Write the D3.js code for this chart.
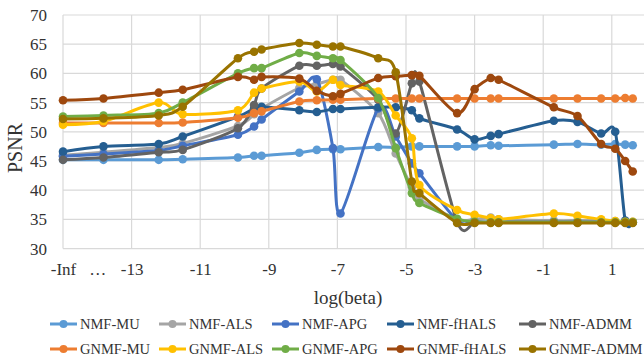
<!DOCTYPE html>
<html><head><meta charset="utf-8">
<script src="https://cdn.jsdelivr.net/npm/d3@7"></script>
<style>body{margin:0;background:#fff}text{font-family:"Liberation Serif","Times New Roman",serif}</style>
</head><body><svg id="c" width="644" height="362"></svg>
<script>
// x positions: ln(beta); beta = 0 is drawn at the "-Inf" slot (-15)
const logBeta = [-15, -13.82, -12.21, -11.51, -9.90, -9.43, -9.21, -8.11, -7.60, -7.13, -6.91, -5.81, -5.30, -4.83, -4.61, -3.51, -3.00, -2.53, -2.30, -0.69, 0, 0.69, 1.10, 1.39, 1.61];
const xTickValues = [-15, -14, -13, -11, -9, -7, -5, -3, -1, 1];
const xTickLabels = ["-Inf", "…", "-13", "-11", "-9", "-7", "-5", "-3", "-1", "1"];
const xGridValues = [-15, -13, -11, -9, -7, -5, -3, -1, 1];
const yTicks = [30, 35, 40, 45, 50, 55, 60, 65, 70];

const seriesNames = ["NMF-MU", "NMF-ALS", "NMF-APG", "NMF-fHALS", "NMF-ADMM",
                     "GNMF-MU", "GNMF-ALS", "GNMF-APG", "GNMF-fHALS", "GNMF-ADMM"];
const seriesColors = ["#5B9BD5", "#A5A5A5", "#4472C4", "#255E91", "#636363",
                      "#ED7D31", "#FFC000", "#70AD47", "#9E480E", "#997300"];

const nmfMU    = [45.2, 45.2, 45.2, 45.3, 45.6, 45.9, 45.9, 46.4, 46.9, 47.0, 47.0, 47.4, 47.3, 47.5, 47.5, 47.5, 47.5, 47.7, 47.6, 47.8, 47.9, 47.8, 47.9, 47.8, 47.7];
const nmfALS   = [46.0, 46.5, 47.3, 48.0, 51.0, 53.0, 54.0, 57.5, 58.2, 58.9, 58.9, 53.2, 46.3, 40.5, 38.5, 35.0, 35.0, 35.3, 35.0, 34.8, 34.8, 34.8, 34.7, 34.6, 34.6];
const nmfAPG   = [45.8, 46.2, 46.8, 47.6, 49.5, 50.9, 52.1, 56.9, 59.0, 47.2, 36.0, 54.0, 49.2, 44.6, 42.9, 34.8, 34.6, 34.5, 34.5, 34.5, 34.5, 34.5, 34.5, 34.5, 34.5];
const nmfFHALS = [46.6, 47.5, 47.9, 49.2, 52.6, 54.0, 54.3, 53.7, 53.4, 53.9, 53.9, 54.2, 54.2, 53.7, 52.3, 50.4, 48.7, 49.3, 49.6, 51.9, 51.7, 49.7, 50.0, 34.8, 34.5];
const nmfADMM  = [45.2, 45.6, 46.5, 46.9, 50.6, 54.6, 57.4, 61.3, 61.3, 61.6, 61.2, 55.5, 49.7, 58.3, 58.6, 34.6, 34.5, 34.5, 34.5, 34.5, 34.5, 34.5, 34.5, 34.5, 34.5];
const gnmfMU   = [51.5, 51.5, 51.5, 51.6, 52.4, 53.2, 53.5, 55.2, 55.4, 55.5, 55.5, 55.7, 55.7, 55.7, 55.7, 55.7, 55.7, 55.7, 55.7, 55.7, 55.7, 55.7, 55.7, 55.8, 55.7];
const gnmfALS  = [51.2, 51.8, 55.0, 53.0, 53.7, 56.7, 57.4, 58.6, 56.9, 58.9, 58.0, 56.9, 52.8, 48.9, 40.9, 36.6, 35.8, 35.2, 35.0, 36.0, 35.6, 35.0, 34.7, 34.6, 34.6];
const gnmfAPG  = [52.6, 52.8, 53.2, 55.0, 60.0, 60.9, 60.9, 63.5, 63.0, 62.6, 62.3, 55.8, 47.2, 39.5, 37.8, 35.1, 34.6, 34.5, 34.5, 34.5, 34.5, 34.5, 34.5, 34.5, 34.5];
const gnmfFHALS= [55.4, 55.7, 56.7, 57.2, 59.4, 58.9, 59.4, 59.1, 57.0, 56.1, 56.5, 59.2, 59.5, 59.7, 59.6, 53.2, 57.3, 59.2, 58.9, 54.2, 52.7, 47.9, 47.1, 45.0, 43.2];
const gnmfADMM = [52.2, 52.3, 52.8, 54.3, 62.6, 63.7, 64.1, 65.2, 64.9, 64.6, 64.6, 62.6, 60.2, 41.5, 39.5, 34.4, 34.4, 34.4, 34.4, 34.4, 34.4, 34.4, 34.4, 34.4, 34.4];

const seriesValues = [nmfMU, nmfALS, nmfAPG, nmfFHALS, nmfADMM, gnmfMU, gnmfALS, gnmfAPG, gnmfFHALS, gnmfADMM];

(function () {
const svg = d3.select("#c");
const pLeft = 63, pTop = 15, pBottom = 248.6, pRight = 644;
const x = d3.scaleLinear().domain([-15, 2]).range([pLeft, pLeft + 17 * 34.3]);
const y = d3.scaleLinear().domain([30, 70]).range([pBottom, pTop]);
const textColor = "#333333";

// gridlines
const grid = svg.append("g");
grid.selectAll("line.h").data(yTicks).join("line").attr("class", "h")
  .attr("x1", pLeft).attr("x2", pRight)
  .attr("y1", d => y(d)).attr("y2", d => y(d))
  .attr("stroke", "#D9D9D9").attr("stroke-width", 1.2);
grid.selectAll("line.v").data(xGridValues).join("line").attr("class", "v")
  .attr("x1", d => x(d)).attr("x2", d => x(d))
  .attr("y1", pTop).attr("y2", pBottom)
  .attr("stroke", "#D9D9D9").attr("stroke-width", 1.2);

// y axis labels
const yAxis = d3.axisLeft(y).tickValues(yTicks).tickSize(0).tickPadding(0);
const gy = svg.append("g").attr("transform", `translate(47,0)`).call(yAxis);
gy.select(".domain").remove();
gy.selectAll("text").attr("font-size", 17).attr("fill", textColor)
  .attr("font-family", "Liberation Serif");

// x axis labels
const xAxis = d3.axisBottom(x).tickValues(xTickValues).tickSize(0).tickPadding(0)
  .tickFormat((d, i) => xTickLabels[i]);
const gx = svg.append("g").attr("transform", `translate(0,${pBottom})`).call(xAxis);
gx.select(".domain").remove();
gx.selectAll("text").attr("font-size", 17).attr("fill", textColor)
  .attr("font-family", "Liberation Serif").attr("dy", null).attr("y", 26);

// axis titles
svg.append("text").attr("x", 348).attr("y", 304).attr("text-anchor", "middle")
  .attr("font-size", 19).attr("fill", textColor).text("log(beta)");
svg.append("text").attr("transform", "translate(22,148) rotate(-90)")
  .attr("text-anchor", "middle").attr("font-size", 20).attr("fill", textColor).text("PSNR");

// series (smoothed lines with markers)
const line = d3.line().x((d, i) => x(logBeta[i])).y(d => y(d)).curve(d3.curveCardinal.tension(0.15));
const gs = svg.append("g");
seriesValues.forEach((vals, k) => {
  const g = gs.append("g");
  g.append("path").attr("d", line(vals)).attr("fill", "none")
    .attr("stroke", seriesColors[k]).attr("stroke-width", 3)
    .attr("stroke-linejoin", "round").attr("stroke-linecap", "round");
  g.selectAll("circle").data(vals).join("circle")
    .attr("cx", (d, i) => x(logBeta[i])).attr("cy", d => y(d)).attr("r", 4.3)
    .attr("fill", seriesColors[k]);
});

// legend
const legCols = [50, 159, 272, 387, 519];
const legRows = [324, 349];
seriesNames.forEach((name, k) => {
  const cx = legCols[k % 5], cy = legRows[Math.floor(k / 5)];
  const g = svg.append("g");
  g.append("line").attr("x1", cx).attr("x2", cx + 27).attr("y1", cy).attr("y2", cy)
    .attr("stroke", seriesColors[k]).attr("stroke-width", 3);
  g.append("circle").attr("cx", cx + 13.5).attr("cy", cy).attr("r", 4).attr("fill", seriesColors[k]);
  g.append("text").attr("x", cx + 30).attr("y", cy).attr("dy", "0.35em")
    .attr("font-size", 14.5).attr("fill", textColor).text(name);
});
})();
</script></body></html>
